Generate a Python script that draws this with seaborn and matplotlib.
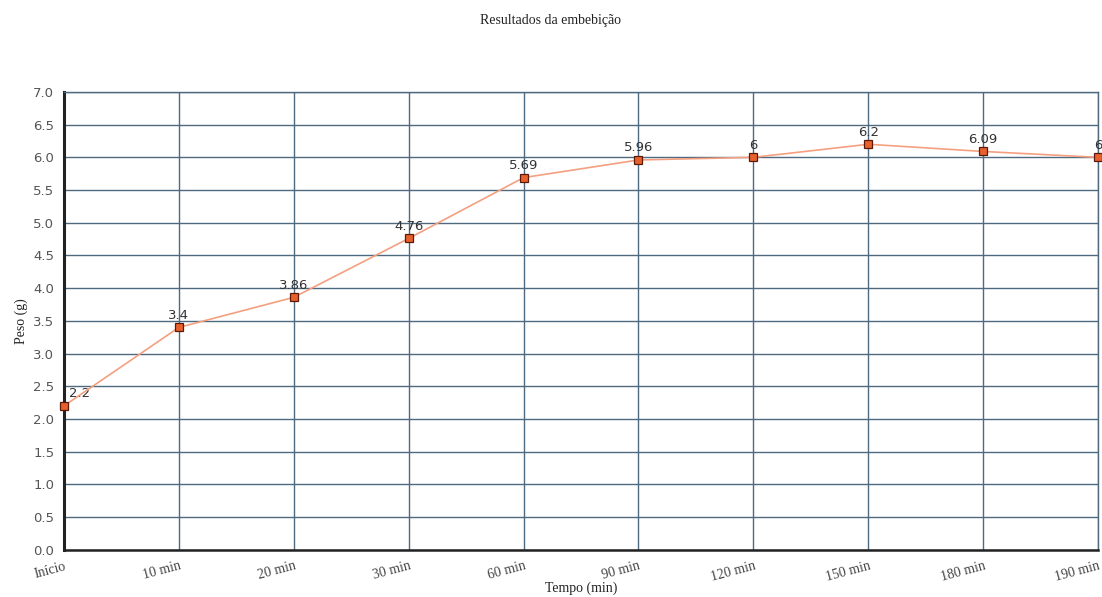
import matplotlib
matplotlib.use("Agg")
import matplotlib.pyplot as plt
import seaborn as sns
import pandas as pd

categorias = ["Início", "10 min", "20 min", "30 min", "60 min", "90 min",
              "120 min", "150 min", "180 min", "190 min"]
peso = [2.2, 3.4, 3.86, 4.76, 5.69, 5.96, 6.0, 6.2, 6.09, 6.0]
rotulos = ["2.2", "3.4", "3.86", "4.76", "5.69", "5.96", "6", "6.2", "6.09", "6"]
yticks = [0.0, 0.5, 1.0, 1.5, 2.0, 2.5, 3.0, 3.5, 4.0, 4.5, 5.0, 5.5, 6.0, 6.5, 7.0]

sns.set_style("white")
plt.rcParams["font.family"] = ["DejaVu Sans"]

df = pd.DataFrame({"pos": range(len(categorias)), "peso": peso})

fig = plt.figure(figsize=(11.02, 5.97), dpi=100)
ax = fig.add_axes([0.058, 0.079, 0.9385, 0.767])

sns.lineplot(data=df, x="pos", y="peso", ax=ax, color="#f4a080", linewidth=1.2,
             marker="s", markersize=6, markerfacecolor="#e8602c",
             markeredgecolor="#5a1a0a", markeredgewidth=0.9, zorder=5, clip_on=False)

for x, y, t in zip(df["pos"], df["peso"], rotulos):
    dx = 4 if x == 0 else 0
    ha = "left" if x == 0 else "center"
    ax.annotate(t, (x, y), xytext=(dx, 4), textcoords="offset points",
                ha=ha, va="bottom", fontsize=9.5, color="#333333")

ax.set_xlim(0, len(categorias) - 1)
ax.set_ylim(0, 7)
ax.set_yticks(yticks)
ax.set_yticklabels([f"{v:.1f}" for v in yticks], fontsize=9.5, color="#555555")
ax.set_xticks(range(len(categorias)))
ax.set_xticklabels(categorias, rotation=15, ha="right", fontsize=10,
                   family="Liberation Serif", color="#444444")
for lbl in ax.get_xticklabels():
    lbl.set_rotation_mode("anchor")

ax.grid(True, color="#4e6a80", linewidth=1.0)
ax.set_axisbelow(True)
ax.tick_params(axis="both", length=4, width=1, color="#222222", pad=3)
ax.tick_params(axis="x", direction="out")

for side in ["top", "right"]:
    ax.spines[side].set_color("#4e6a80")
    ax.spines[side].set_linewidth(1.0)
ax.spines["left"].set_color("#222222")
ax.spines["left"].set_linewidth(2.2)
ax.spines["bottom"].set_color("#222222")
ax.spines["bottom"].set_linewidth(1.8)

ax.set_xlabel("Tempo (min)", family="Liberation Serif", fontsize=10, color="#222222")
ax.xaxis.set_label_coords(0.5, -0.069)
ax.set_ylabel("Peso (g)", family="Liberation Serif", fontsize=10, color="#222222",
              labelpad=4)
fig.text(0.5, 0.966, "Resultados da embebição", ha="center", va="center",
         family="Liberation Serif", fontsize=10, color="#222222")

fig.savefig("out.png", dpi=100, facecolor="white")
